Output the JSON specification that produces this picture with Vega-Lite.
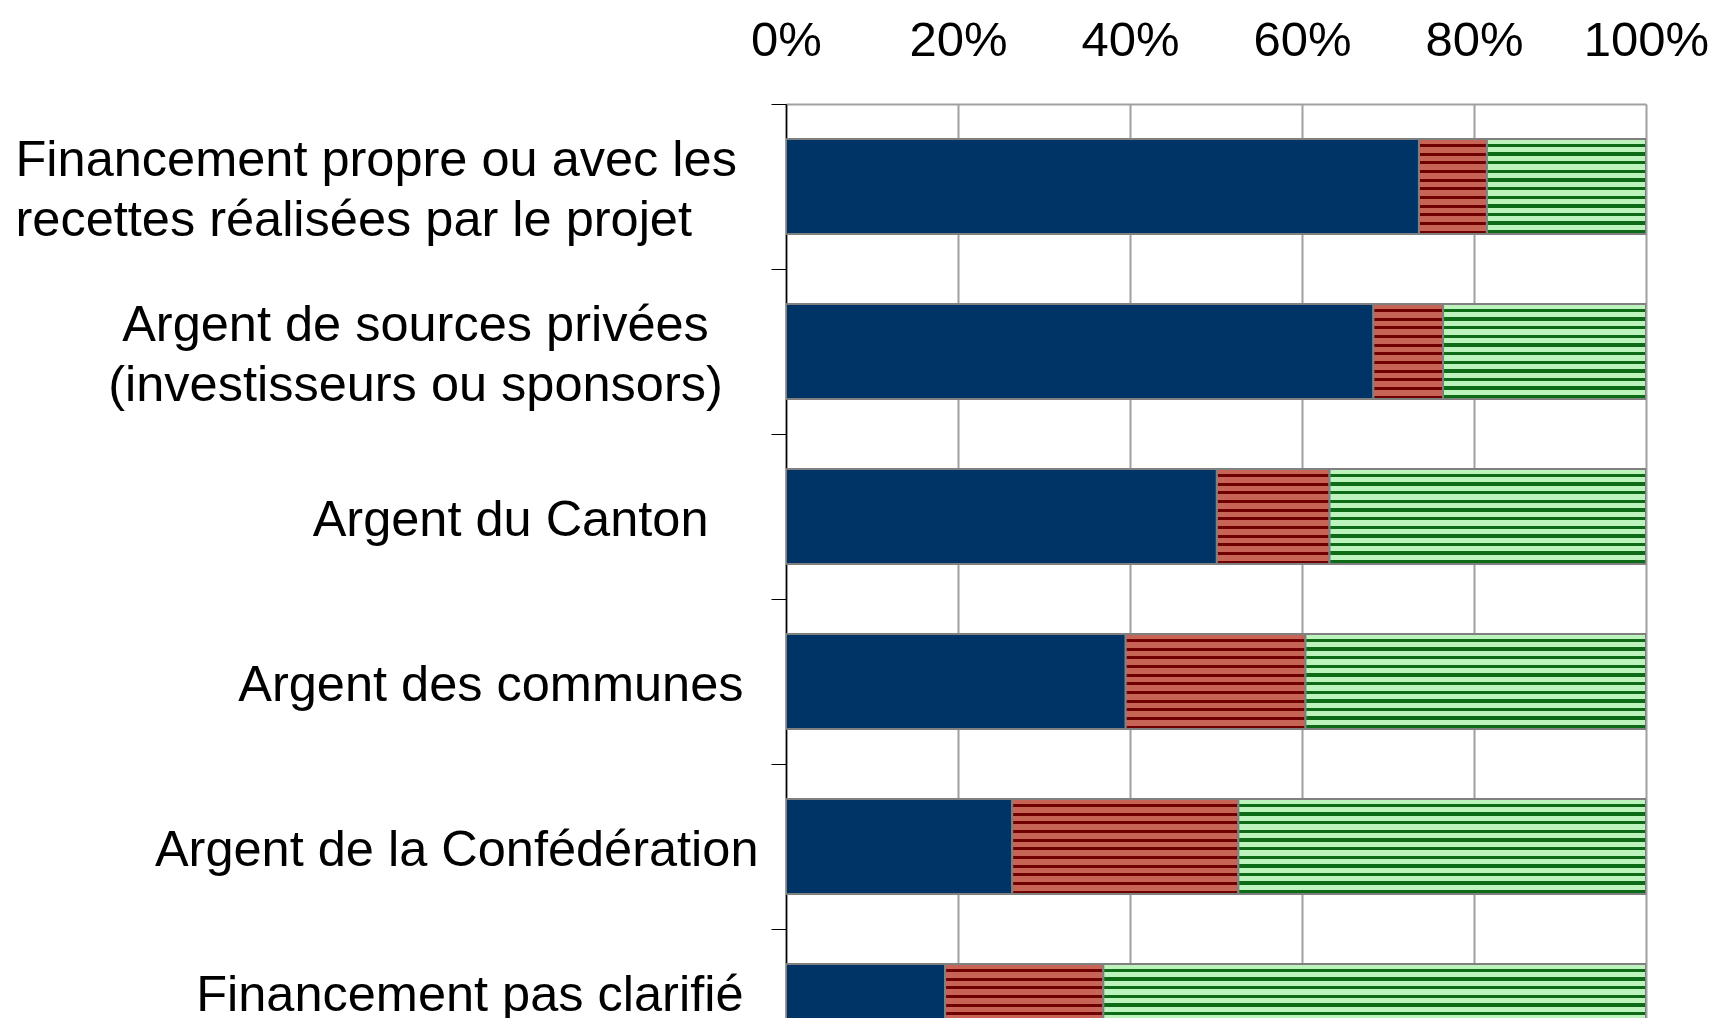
{
  "$schema": "https://vega.github.io/schema/vega-lite/v6.json",
  "autosize": {"type": "none"},
  "padding": {"left": 786, "top": 104, "right": 69, "bottom": 0},
  "width": 860,
  "height": 914,
  "background": "white",
  "config": {"view": {"stroke": null}},
  "data": {
    "values": [
      {"cat": "Financement propre ou avec les|recettes réalisées par le projet", "s": "A", "pct": 73.6},
      {"cat": "Financement propre ou avec les|recettes réalisées par le projet", "s": "B", "pct": 7.9},
      {"cat": "Financement propre ou avec les|recettes réalisées par le projet", "s": "C", "pct": 18.5},
      {"cat": "Argent de sources privées|(investisseurs ou sponsors)", "s": "A", "pct": 68.3},
      {"cat": "Argent de sources privées|(investisseurs ou sponsors)", "s": "B", "pct": 8.1},
      {"cat": "Argent de sources privées|(investisseurs ou sponsors)", "s": "C", "pct": 23.6},
      {"cat": "Argent du Canton", "s": "A", "pct": 50.1},
      {"cat": "Argent du Canton", "s": "B", "pct": 13.1},
      {"cat": "Argent du Canton", "s": "C", "pct": 36.8},
      {"cat": "Argent des communes", "s": "A", "pct": 39.5},
      {"cat": "Argent des communes", "s": "B", "pct": 20.9},
      {"cat": "Argent des communes", "s": "C", "pct": 39.6},
      {"cat": "Argent de la Confédération", "s": "A", "pct": 26.3},
      {"cat": "Argent de la Confédération", "s": "B", "pct": 26.3},
      {"cat": "Argent de la Confédération", "s": "C", "pct": 47.4},
      {"cat": "Financement pas clarifié", "s": "A", "pct": 18.5},
      {"cat": "Financement pas clarifié", "s": "B", "pct": 18.4},
      {"cat": "Financement pas clarifié", "s": "C", "pct": 63.1}
    ]
  },
  "transform": [
    {"stack": "pct", "groupby": ["cat"], "sort": [{"field": "s", "order": "ascending"}], "offset": "normalize", "as": ["x0", "x1"]}
  ],
  "encoding": {
    "y": {
      "field": "cat",
      "type": "nominal",
      "scale": {
        "domain": [
          "Financement propre ou avec les|recettes réalisées par le projet",
          "Argent de sources privées|(investisseurs ou sponsors)",
          "Argent du Canton",
          "Argent des communes",
          "Argent de la Confédération",
          "Financement pas clarifié"
        ],
        "range": [0, 990],
        "paddingInner": 0,
        "paddingOuter": 0
      },
      "axis": {
        "title": null,
        "labelExpr": "split(datum.value, '|')",
        "labelFont": "Liberation Sans",
        "labelFontSize": 50.5,
        "labelLineHeight": 60,
        "labelColor": "black",
        "labelAlign": {"expr": "indexof(datum.value,'propre')>=0 ? 'left' : indexof(datum.value,'privées')>=0 ? 'center' : 'right'"},
        "labelBaseline": "middle",
        "labelPadding": {"expr": "indexof(datum.value,'propre')>=0 ? 756 : indexof(datum.value,'privées')>=0 ? 356 : indexof(datum.value,'Canton')>=0 ? 63 : indexof(datum.value,'communes')>=0 ? 28 : indexof(datum.value,'clarifié')>=0 ? 28 : 13"},
        "tickOffset": -82.5,
        "labelOffset": {"expr": "indexof(datum.value,'|')>=0 ? 56.5 : indexof(datum.value,'clarifié')>=0 ? 66.5 : 86.5"},
        "labelLimit": 0,
        "labelOverlap": false,
        "domainColor": "black",
        "domainWidth": 1.5,
        "tickColor": "black",
        "tickWidth": 1,
        "tickSize": 15,
        "grid": false
      }
    },
    "x": {
      "field": "x0",
      "type": "quantitative",
      "scale": {"domain": [0, 1], "nice": false},
      "axis": {
        "orient": "top",
        "title": null,
        "values": [0, 0.2, 0.4, 0.6, 0.8, 1],
        "format": ".0%",
        "labelFont": "Liberation Sans",
        "labelFontSize": 49,
        "labelColor": "black",
        "labelBaseline": "alphabetic",
        "labelPadding": 49,
        "labelFlush": false,
        "labelOverlap": false,
        "ticks": false,
        "tickSize": 0,
        "domain": true,
        "domainColor": "#A0A0A0",
        "domainWidth": 2,
        "grid": true,
        "gridColor": "#A0A0A0",
        "gridWidth": 2
      }
    },
    "x2": {"field": "x1"}
  },
  "layer": [
    {
      "transform": [{"filter": "datum.s === 'A'"}],
      "mark": {"type": "bar", "height": {"band": 0.576}, "clip": true, "fill": "#003366", "stroke": "#808080", "strokeWidth": 2}
    },
    {
      "transform": [{"filter": "datum.s === 'B'"}],
      "mark": {
        "type": "bar", "height": {"band": 0.576}, "clip": true, "stroke": "#808080", "strokeWidth": 2,
        "fill": {
          "gradient": "linear", "x1": 0, "y1": 0, "x2": 0, "y2": 1,
          "stops": [
            {"offset": 0, "color": "#C86455"},
            {"offset": 0.0545, "color": "#C86455"}, {"offset": 0.0545, "color": "#700000"}, {"offset": 0.0864, "color": "#700000"}, {"offset": 0.0864, "color": "#C86455"},
            {"offset": 0.1455, "color": "#C86455"}, {"offset": 0.1455, "color": "#700000"}, {"offset": 0.1773, "color": "#700000"}, {"offset": 0.1773, "color": "#C86455"},
            {"offset": 0.2364, "color": "#C86455"}, {"offset": 0.2364, "color": "#700000"}, {"offset": 0.2682, "color": "#700000"}, {"offset": 0.2682, "color": "#C86455"},
            {"offset": 0.3273, "color": "#C86455"}, {"offset": 0.3273, "color": "#700000"}, {"offset": 0.3591, "color": "#700000"}, {"offset": 0.3591, "color": "#C86455"},
            {"offset": 0.4182, "color": "#C86455"}, {"offset": 0.4182, "color": "#700000"}, {"offset": 0.45, "color": "#700000"}, {"offset": 0.45, "color": "#C86455"},
            {"offset": 0.5091, "color": "#C86455"}, {"offset": 0.5091, "color": "#700000"}, {"offset": 0.5409, "color": "#700000"}, {"offset": 0.5409, "color": "#C86455"},
            {"offset": 0.6, "color": "#C86455"}, {"offset": 0.6, "color": "#700000"}, {"offset": 0.6318, "color": "#700000"}, {"offset": 0.6318, "color": "#C86455"},
            {"offset": 0.6909, "color": "#C86455"}, {"offset": 0.6909, "color": "#700000"}, {"offset": 0.7227, "color": "#700000"}, {"offset": 0.7227, "color": "#C86455"},
            {"offset": 0.7818, "color": "#C86455"}, {"offset": 0.7818, "color": "#700000"}, {"offset": 0.8136, "color": "#700000"}, {"offset": 0.8136, "color": "#C86455"},
            {"offset": 0.8727, "color": "#C86455"}, {"offset": 0.8727, "color": "#700000"}, {"offset": 0.9045, "color": "#700000"}, {"offset": 0.9045, "color": "#C86455"},
            {"offset": 0.9636, "color": "#C86455"}, {"offset": 0.9636, "color": "#700000"}, {"offset": 0.9955, "color": "#700000"}, {"offset": 0.9955, "color": "#C86455"},
            {"offset": 1, "color": "#C86455"}
          ]
        }
      }
    },
    {
      "transform": [{"filter": "datum.s === 'C'"}],
      "mark": {
        "type": "bar", "height": {"band": 0.576}, "clip": true, "stroke": "#808080", "strokeWidth": 2,
        "fill": {
          "gradient": "linear", "x1": 0, "y1": 0, "x2": 0, "y2": 1,
          "stops": [
            {"offset": 0, "color": "#BDF4BD"},
            {"offset": 0.05, "color": "#BDF4BD"}, {"offset": 0.05, "color": "#0D6B17"}, {"offset": 0.0864, "color": "#0D6B17"}, {"offset": 0.0864, "color": "#BDF4BD"},
            {"offset": 0.1409, "color": "#BDF4BD"}, {"offset": 0.1409, "color": "#0D6B17"}, {"offset": 0.1773, "color": "#0D6B17"}, {"offset": 0.1773, "color": "#BDF4BD"},
            {"offset": 0.2318, "color": "#BDF4BD"}, {"offset": 0.2318, "color": "#0D6B17"}, {"offset": 0.2682, "color": "#0D6B17"}, {"offset": 0.2682, "color": "#BDF4BD"},
            {"offset": 0.3227, "color": "#BDF4BD"}, {"offset": 0.3227, "color": "#0D6B17"}, {"offset": 0.3591, "color": "#0D6B17"}, {"offset": 0.3591, "color": "#BDF4BD"},
            {"offset": 0.4136, "color": "#BDF4BD"}, {"offset": 0.4136, "color": "#0D6B17"}, {"offset": 0.45, "color": "#0D6B17"}, {"offset": 0.45, "color": "#BDF4BD"},
            {"offset": 0.5045, "color": "#BDF4BD"}, {"offset": 0.5045, "color": "#0D6B17"}, {"offset": 0.5409, "color": "#0D6B17"}, {"offset": 0.5409, "color": "#BDF4BD"},
            {"offset": 0.5955, "color": "#BDF4BD"}, {"offset": 0.5955, "color": "#0D6B17"}, {"offset": 0.6318, "color": "#0D6B17"}, {"offset": 0.6318, "color": "#BDF4BD"},
            {"offset": 0.6864, "color": "#BDF4BD"}, {"offset": 0.6864, "color": "#0D6B17"}, {"offset": 0.7227, "color": "#0D6B17"}, {"offset": 0.7227, "color": "#BDF4BD"},
            {"offset": 0.7773, "color": "#BDF4BD"}, {"offset": 0.7773, "color": "#0D6B17"}, {"offset": 0.8136, "color": "#0D6B17"}, {"offset": 0.8136, "color": "#BDF4BD"},
            {"offset": 0.8682, "color": "#BDF4BD"}, {"offset": 0.8682, "color": "#0D6B17"}, {"offset": 0.9045, "color": "#0D6B17"}, {"offset": 0.9045, "color": "#BDF4BD"},
            {"offset": 0.9591, "color": "#BDF4BD"}, {"offset": 0.9591, "color": "#0D6B17"}, {"offset": 0.9955, "color": "#0D6B17"}, {"offset": 0.9955, "color": "#BDF4BD"},
            {"offset": 1, "color": "#BDF4BD"}
          ]
        }
      }
    }
  ]
}
